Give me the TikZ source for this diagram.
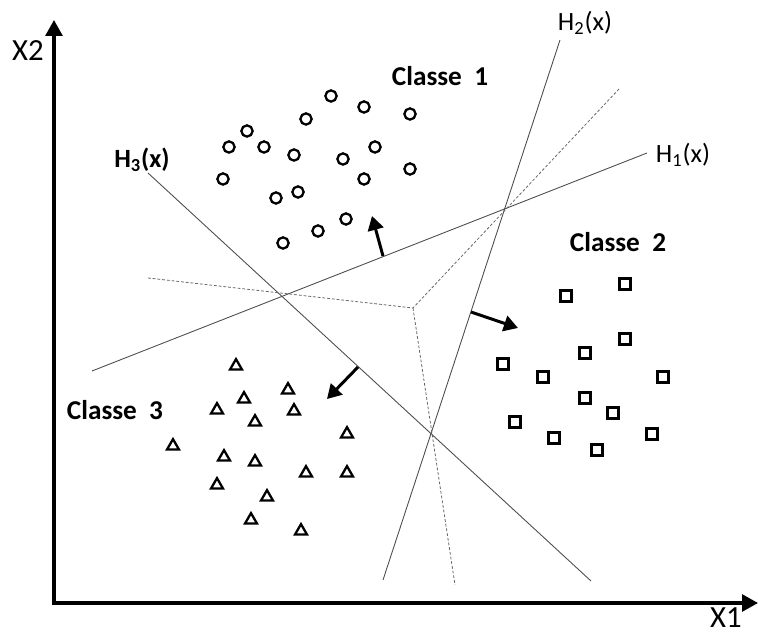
\documentclass[tikz,border=0pt]{standalone}
\usepackage{fontspec}
\setmainfont{Carlito}
\usetikzlibrary{arrows.meta,positioning,shapes.geometric}

\begin{document}
\begin{tikzpicture}[x=0.02cm,y=-0.02cm,
   axis/.style={line width=1.8pt,{Triangle[length=9pt,width=9.5pt]}-{Triangle[length=9pt,width=9.5pt]}},
   hyp/.style={draw=black!70,line width=0.5pt},
   bis/.style={draw=black!60,line width=0.45pt,dash pattern=on 1.6pt off 1.1pt},
   push/.style={line width=1.7pt,-{Triangle[length=8pt,width=9pt]}},
   cls1/.style={draw,circle,line width=1.3pt,inner sep=0pt,minimum size=6.4pt},
   cls2/.style={draw,rectangle,line width=1.5pt,inner sep=0pt,minimum size=6.3pt},
   cls3/.style={draw,regular polygon,regular polygon sides=3,line width=1.3pt,inner sep=0pt,minimum size=7.8pt},
   cname/.style={font=\fontsize{15.5}{18}\selectfont\bfseries},
   hname/.style={font=\fontsize{15}{17}\selectfont},
   aname/.style={font=\fontsize{17.5}{20}\selectfont}]
  \useasboundingbox (0,0) rectangle (758,634);

  % ---- axes ----
  \coordinate (O) at (54,603);
  \coordinate (ytip) at (54,20);
  \coordinate (xtip) at (758,603);
  \draw[axis] (ytip) -- (O) -- (xtip);
  \node[aname] (lx2) at (28,51) {X2};
  \node[aname] (lx1) at (726,618) {X1};

  % ---- separating lines ----
  \coordinate (h1a) at (92,371);  \coordinate (h1b) at (647,153);
  \coordinate (h2a) at (383,580); \coordinate (h2b) at (560,40);
  \coordinate (h3a) at (148,173); \coordinate (h3b) at (591,581);
  \draw[hyp] (h1a) -- (h1b);
  \draw[hyp] (h2a) -- (h2b);
  \draw[hyp] (h3a) -- (h3b);
  \node[hname] (lh1) at (683,155) {H\textsubscript{1}(x)};
  \node[hname] (lh2) at (585,23) {H\textsubscript{2}(x)};
  \node[hname,font=\fontsize{15}{17}\selectfont\bfseries] (lh3) at (142,160) {H\textsubscript{3}(x)};

  % dotted bisectors
  \coordinate (m) at (413,308);
  \coordinate (d1) at (148,278);
  \coordinate (d2) at (619,89);
  \coordinate (d3) at (455,585);
  \draw[bis] (d1) -- (m) -- (d2);
  \draw[bis] (m) -- (d3);

  % orientation arrows
  \coordinate (p1) at (383,256); \coordinate (q1) at (372,216);
  \coordinate (p2) at (471,312); \coordinate (q2) at (518,328);
  \coordinate (p3) at (358,367); \coordinate (q3) at (327,399);
  \draw[push] (p1) -- (q1);
  \draw[push] (p2) -- (q2);
  \draw[push] (p3) -- (q3);

  % ---- classes ----
  \foreach \x/\y [count=\i] in {331/96,364/107,410/114,306/119,247/131,229/147,264/147,294/155,
      343/159,375/147,410/169,364/179,223/179,276/198,298/192,346/219,318/231,283/243}
    \node[cls1] (c\i) at (\x,\y) {};
  \foreach \x/\y [count=\i] in {566/296,625/284,503/364,543/377,585/353,625/339,663/377,
      585/398,613/413,515/422,554/438,597/450,652/434}
    \node[cls2] (s\i) at (\x,\y) {};
  \foreach \x/\y [count=\i] in {236/366,288/390,244/399,217/410,294/411,255/422,347/434,173/446,
      224/457,255/462,306/473,347/473,217/485,267/497,251/520,301/531}
    \node[cls3] (t\i) at (\x,\y) {};

  \node[cname] (k1) at (440,76) {Classe\ \ 1};
  \node[cname] (k2) at (618,242) {Classe\ \ 2};
  \node[cname] (k3) at (115,410) {Classe\ \ 3};
\end{tikzpicture}
\end{document}
